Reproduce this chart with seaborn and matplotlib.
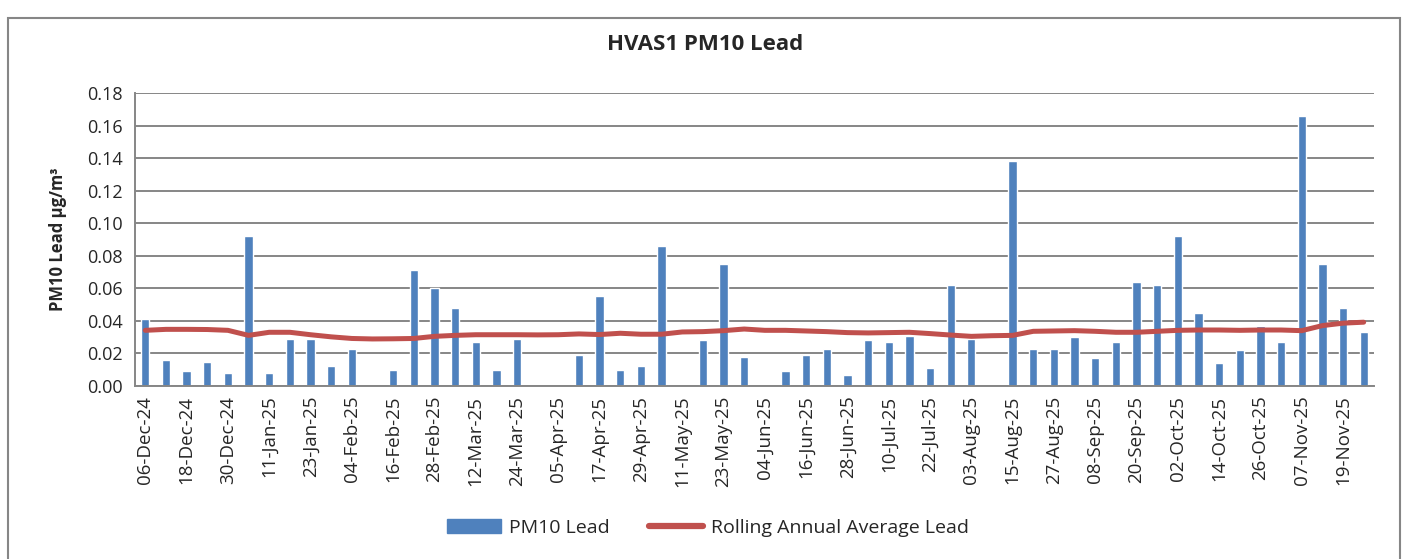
import numpy as np
import pandas as pd
import matplotlib
matplotlib.use("Agg")
import matplotlib.pyplot as plt
from matplotlib.patches import Rectangle
from matplotlib.lines import Line2D
from matplotlib.patches import Patch
import seaborn as sns

# sample dates, one every 6 days (06-Dec-24 .. 25-Nov-25)
dates = pd.date_range("2024-12-06", periods=60, freq="6D")
date_labels = [d.strftime("%d-%b-%y") for d in dates]

# PM10 lead per sample, ug/m3 (nan = no result)
pm10_lead = [
    0.041, 0.016, 0.009, 0.015, 0.008, 0.092, 0.008, 0.029, 0.029, 0.012,
    0.023, np.nan, 0.010, 0.071, 0.060, 0.048, 0.027, 0.010, 0.029, np.nan,
    np.nan, 0.019, 0.055, 0.010, 0.012, 0.086, np.nan, 0.028, 0.075, 0.018,
    np.nan, 0.009, 0.019, 0.023, 0.007, 0.028, 0.027, 0.031, 0.011, 0.062,
    0.029, np.nan, 0.138, 0.023, 0.023, 0.030, 0.017, 0.027, 0.064, 0.062,
    0.092, 0.045, 0.014, 0.022, 0.037, 0.027, 0.166, 0.075, 0.048, 0.033,
]

# rolling annual average
rolling_avg = [
    0.0342, 0.0348, 0.0348, 0.0347, 0.0342, 0.0311, 0.0330, 0.0330, 0.0315, 0.0302,
    0.0292, 0.0289, 0.0290, 0.0292, 0.0305, 0.0311, 0.0315, 0.0315, 0.0315, 0.0314,
    0.0315, 0.0320, 0.0316, 0.0324, 0.0318, 0.0318, 0.0332, 0.0334, 0.0340, 0.0350,
    0.0342, 0.0342, 0.0338, 0.0334, 0.0328, 0.0326, 0.0328, 0.0330, 0.0322, 0.0313,
    0.0305, 0.0309, 0.0311, 0.0336, 0.0338, 0.0340, 0.0336, 0.0330, 0.0330, 0.0336,
    0.0342, 0.0344, 0.0344, 0.0342, 0.0344, 0.0344, 0.0340, 0.0371, 0.0386, 0.0392,
]

df = pd.DataFrame({"date": date_labels, "lead": pm10_lead, "avg": rolling_avg})

sns.set_style("white")
plt.rcParams["font.family"] = ["Open Sans", "DejaVu Sans"]

bar_col = "#4F81BD"
line_col = "#C0504D"
grid_col = "#868686"

fig = plt.figure(figsize=(14.07, 5.59), dpi=100)
ax = fig.add_axes([135 / 1407, 1 - 386 / 559, (1374 - 135) / 1407, (386 - 93) / 559])

sns.barplot(data=df, x="date", y="lead", order=date_labels, color=bar_col,
            width=0.4, saturation=1, errorbar=None, ax=ax, zorder=2)
sns.lineplot(x=np.arange(len(df)), y=df["avg"], color=line_col, linewidth=3.6,
             ax=ax, zorder=3, solid_capstyle="round")

ax.set_xlim(-0.5, len(df) - 0.5)
ax.set_ylim(0, 0.18)
ax.set_yticks(np.arange(0, 0.181, 0.02))
ax.set_yticklabels([f"{v:.2f}" for v in np.arange(0, 0.181, 0.02)], fontsize=13)
ax.yaxis.grid(True, color=grid_col, linewidth=1.4, zorder=0)
ax.set_axisbelow(True)

ax.set_xticks(np.arange(0, len(df), 2))
ax.set_xticklabels(date_labels[::2], rotation=90, fontsize=13.5)
ax.set_xticks(np.arange(-0.5, len(df), 1), minor=True)
ax.tick_params(axis="x", which="major", length=0, pad=7)
ax.tick_params(axis="x", which="minor", length=5, color=grid_col, width=1.2)
ax.tick_params(axis="y", length=5, color=grid_col, width=1.2, pad=4)

for s in ["top", "right"]:
    ax.spines[s].set_visible(False)
for s in ["left", "bottom"]:
    ax.spines[s].set_color(grid_col)
    ax.spines[s].set_linewidth(1.4)

ax.set_xlabel("")
ax.set_ylabel("PM10 Lead µg/m³", fontsize=12, fontweight="bold", labelpad=14)

fig.text(705 / 1407, 1 - 44 / 559, "HVAS1 PM10 Lead", ha="center", va="center",
         fontsize=16, fontweight="bold")

handles = [Patch(color=bar_col), Line2D([0], [0], color=line_col, linewidth=4.5, solid_capstyle="round")]
fig.legend(handles, ["PM10 Lead", "Rolling Annual Average Lead"], loc="center",
           bbox_to_anchor=(708 / 1407, 1 - 528 / 559), ncol=2, frameon=False,
           fontsize=14, handlelength=2.8, handletextpad=0.4, columnspacing=2)

fig.patches.append(Rectangle((8 / 1407, -0.01), 1392 / 1407, (559 - 18) / 559 + 0.01,
                             transform=fig.transFigure, fill=False,
                             edgecolor=grid_col, linewidth=1.5))

fig.savefig("out.png", dpi=100)
